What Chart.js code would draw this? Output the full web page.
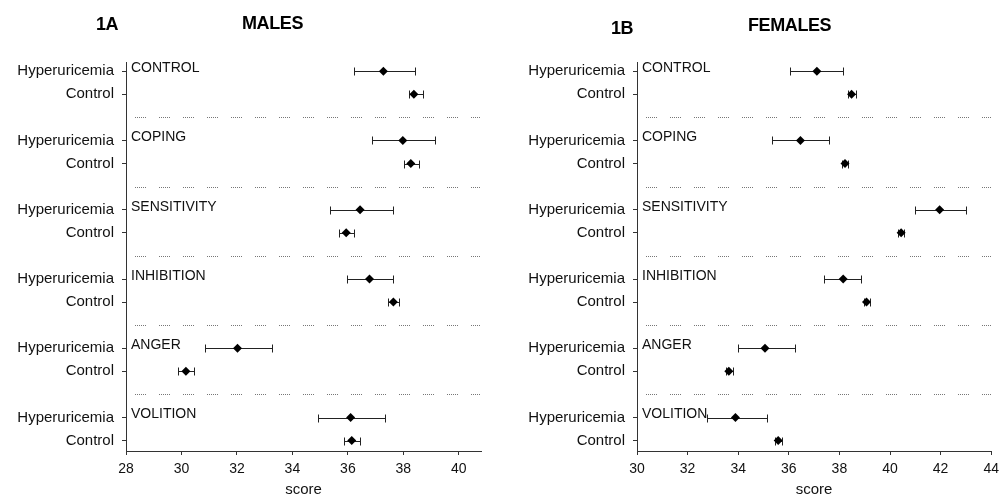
<!DOCTYPE html>
<html>
<head>
<meta charset="utf-8">
<script src="https://cdn.jsdelivr.net/npm/chart.js@4.4.1/dist/chart.umd.min.js"></script>
<style>
  body { margin: 0; background: #fff; }
  #wrap { position: relative; width: 1005px; height: 499px; font-family: Arial, "Liberation Sans", sans-serif; }
  .box { position: absolute; top: 0; height: 499px; }
  .ttl { position: absolute; font-weight: bold; font-size: 18px; line-height: 18px; color: #000; letter-spacing: -0.4px; white-space: nowrap; }
</style>
</head>
<body>
<div id="wrap">
  <div class="box" style="left:0;width:500px"><canvas id="males"></canvas></div>
  <div class="box" style="left:500px;width:505px"><canvas id="females"></canvas></div>
  <div class="ttl" style="left:96px;top:15px">1A</div>
  <div class="ttl" style="left:242px;top:14px">MALES</div>
  <div class="ttl" style="left:611px;top:19px">1B</div>
  <div class="ttl" style="left:748px;top:16px">FEMALES</div>
</div>
<script>
const groups = ['CONTROL', 'COPING', 'SENSITIVITY', 'INHIBITION', 'ANGER', 'VOLITION'];
const rowNames = ['Hyperuricemia', 'Control'];

// males (1A): mean and error-bar ends
const maleHyperMean = [37.28, 37.98, 36.44, 36.78, 32.02, 36.10];
const maleHyperLow  = [36.22, 36.86, 35.36, 35.96, 30.85, 34.94];
const maleHyperHigh = [38.42, 39.15, 37.61, 37.64, 33.25, 37.34];
const maleCtrlMean  = [38.38, 38.27, 35.94, 37.64, 30.16, 36.14];
const maleCtrlLow   = [38.20, 38.02, 35.68, 37.44, 29.89, 35.86];
const maleCtrlHigh  = [38.70, 38.56, 36.22, 37.85, 30.45, 36.42];

// females (1B)
const femaleHyperMean = [37.11, 36.46, 41.96, 38.15, 35.06, 33.89];
const femaleHyperLow  = [36.04, 35.35, 40.99, 37.41, 33.98, 32.78];
const femaleHyperHigh = [38.15, 37.57, 43.01, 38.85, 36.24, 35.13];
const femaleCtrlMean  = [38.48, 38.22, 40.44, 39.07, 33.63, 35.58];
const femaleCtrlLow   = [38.35, 38.09, 40.31, 38.96, 33.50, 35.45];
const femaleCtrlHigh  = [38.64, 38.35, 40.57, 39.20, 33.78, 35.74];

const maleTicks = [28, 30, 32, 34, 36, 38, 40];
const femaleTicks = [30, 32, 34, 36, 38, 40, 42, 44];

const FONT = 'Arial, "Liberation Sans", sans-serif';

// each group takes 3 rows: Hyperuricemia, Control, gap
function rows(mean, low, high, offset) {
  return mean.map((m, i) => ({ x: m, y: i * 3 + offset, lo: low[i], hi: high[i] }));
}

const forestPlugin = {
  id: 'forest',
  beforeDatasetsDraw(chart) {
    const { ctx, chartArea, scales: { x, y } } = chart;
    ctx.save();

    // dotted separators between groups (runs of fine dots)
    ctx.strokeStyle = '#777';
    ctx.lineWidth = 1;
    ctx.setLineDash([1, 1, 1, 1, 1, 1, 1, 1, 1, 1, 1, 13]);
    for (let i = 0; i < groups.length - 1; i++) {
      const py = Math.round(y.getPixelForValue(i * 3 + 2)) + 0.5;
      ctx.beginPath();
      ctx.moveTo(chartArea.left + 9, py);
      ctx.lineTo(chartArea.right, py);
      ctx.stroke();
    }
    ctx.setLineDash([]);

    // group names
    ctx.fillStyle = '#111';
    ctx.font = '14px ' + FONT;
    ctx.textAlign = 'left';
    ctx.textBaseline = 'middle';
    groups.forEach((g, i) => ctx.fillText(g, chartArea.left + 5, y.getPixelForValue(i * 3) - 3));

    // error bars
    ctx.strokeStyle = '#222';
    chart.data.datasets.forEach(ds => ds.data.forEach(d => {
      const py = Math.round(y.getPixelForValue(d.y)) + 0.5;
      const x1 = Math.round(x.getPixelForValue(d.lo)) + 0.5;
      const x2 = Math.round(x.getPixelForValue(d.hi)) + 0.5;
      ctx.beginPath();
      ctx.moveTo(x1, py); ctx.lineTo(x2, py);
      ctx.moveTo(x1, py - 4); ctx.lineTo(x1, py + 4);
      ctx.moveTo(x2, py - 4); ctx.lineTo(x2, py + 4);
      ctx.stroke();
    }));
    ctx.restore();
  }
};

function makeChart(id, hyper, ctrl, xMin, xMax, xTicks, axisLeft, padRight) {
  const rowTicks = [];
  groups.forEach((g, i) => { rowTicks.push(i * 3, i * 3 + 1); });

  return new Chart(document.getElementById(id), {
    type: 'scatter',
    data: {
      datasets: [
        { label: 'Hyperuricemia', data: hyper },
        { label: 'Control', data: ctrl }
      ]
    },
    options: {
      responsive: true,
      maintainAspectRatio: false,
      animation: false,
      layout: { padding: { top: 62, right: padRight, left: 0, bottom: 0 } },
      elements: {
        point: { pointStyle: 'rectRot', radius: 4.5, borderWidth: 0, backgroundColor: '#000', borderColor: '#000' }
      },
      plugins: { legend: { display: false }, tooltip: { enabled: false } },
      scales: {
        x: {
          type: 'linear',
          min: xMin,
          max: xMax,
          afterBuildTicks: s => { s.ticks = xTicks.map(v => ({ value: v })); },
          afterFit: s => { s.height = 48; },
          grid: { drawOnChartArea: false, drawTicks: true, tickLength: 4, color: '#333' },
          border: { display: true, color: '#333', width: 1 },
          ticks: { font: { family: FONT, size: 14 }, color: '#111', padding: 6, maxRotation: 0 },
          title: { display: true, text: 'score', font: { family: FONT, size: 15 }, color: '#111', padding: { top: 0, bottom: 0 } }
        },
        y: {
          type: 'linear',
          reverse: true,
          min: -0.4,
          max: 16.45,
          afterBuildTicks: s => { s.ticks = rowTicks.map(v => ({ value: v })); },
          afterFit: s => { s.width = axisLeft; },
          grid: { drawOnChartArea: false, drawTicks: true, tickLength: 4, color: '#333' },
          border: { display: true, color: '#333', width: 1 },
          ticks: {
            autoSkip: false,
            font: { family: FONT, size: 15 },
            color: '#111',
            padding: 8,
            callback: v => rowNames[v % 3]
          }
        }
      }
    },
    plugins: [forestPlugin]
  });
}

makeChart('males',
  rows(maleHyperMean, maleHyperLow, maleHyperHigh, 0),
  rows(maleCtrlMean, maleCtrlLow, maleCtrlHigh, 1),
  28, 40.8, maleTicks, 126, 19);

makeChart('females',
  rows(femaleHyperMean, femaleHyperLow, femaleHyperHigh, 0),
  rows(femaleCtrlMean, femaleCtrlLow, femaleCtrlHigh, 1),
  30, 44, femaleTicks, 137, 11);
</script>
</body>
</html>
